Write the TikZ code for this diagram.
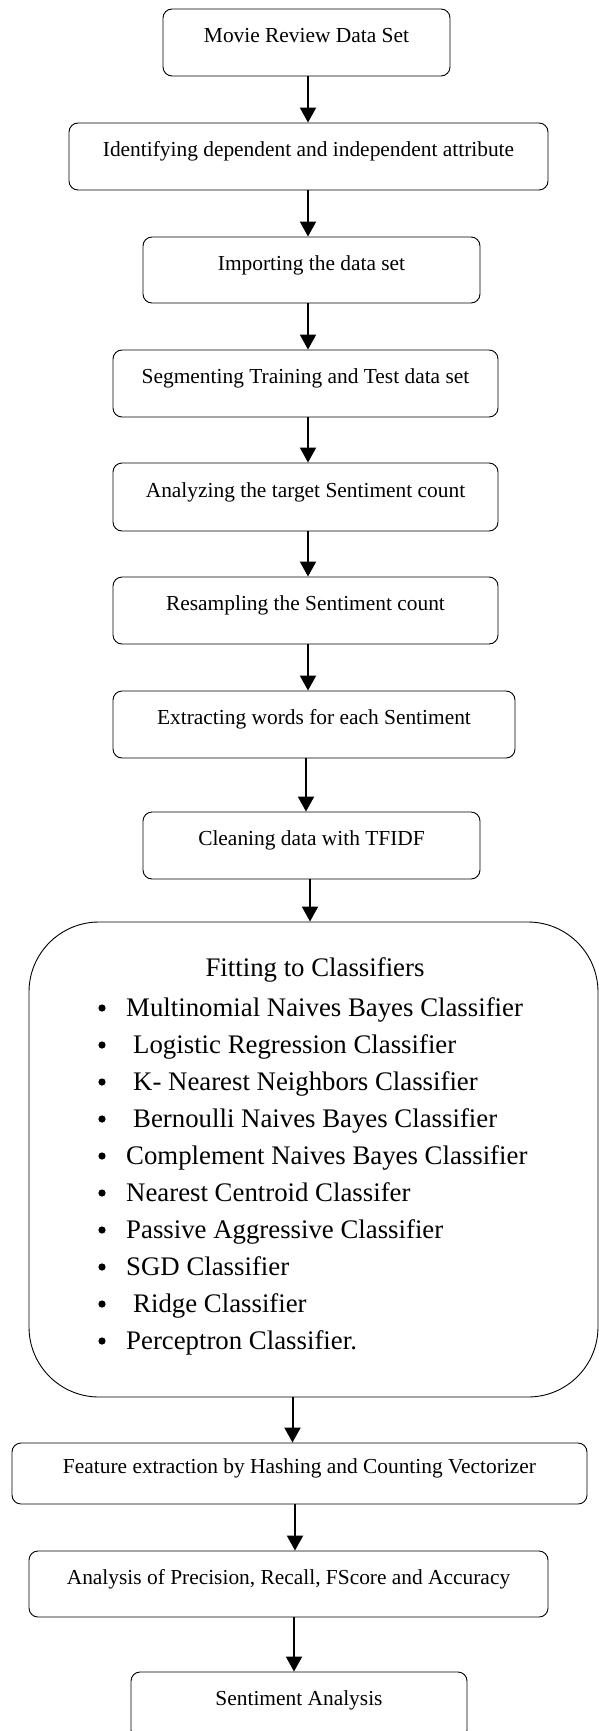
\documentclass[tikz,border=0pt]{standalone}
\usepackage{fontspec}
\setmainfont{Liberation Serif}
\usetikzlibrary{arrows.meta}

\begin{document}
\begin{tikzpicture}[x=1pt, y=-1pt, >={Triangle[width=16pt,length=15pt]},
	stepbox/.style={draw, line width=0.9pt, rounded corners=9pt, inner sep=0pt,
		font=\fontsize{21.4}{25}\selectfont, text height=12pt, text depth=12pt},
	flow/.style={->, line width=2pt},
	listtext/.style={inner sep=0pt, anchor=base west, font=\fontsize{26.8}{32}\selectfont}]
	\useasboundingbox (0,0) rectangle (599,1731);

	% Macro for an arrow from the bottom of one box to the top of the next.
	% Usage: \flowarrow{from}{to}{xshift}
	\newcommand{\flowarrow}[3]{
		\draw[flow] ([xshift=#3]#1.south) -- ([xshift=#3]#1.south |- #2.north);
	}

	% Steps of the pipeline
	\node[stepbox, minimum width=287pt, minimum height=67pt] (data) at (306.5,42.5) {Movie Review Data Set};
	\node[stepbox, minimum width=479pt, minimum height=67pt] (attr) at (308.5,156.5) {Identifying dependent and independent attribute};
	\node[stepbox, minimum width=337pt, minimum height=66pt] (import) at (311.5,270) {Importing the data set};
	\node[stepbox, minimum width=385pt, minimum height=67pt] (split) at (305.5,383.5) {Segmenting Training and Test data set};
	\node[stepbox, minimum width=385pt, minimum height=68pt] (count) at (305.5,497) {Analyzing the target Sentiment count};
	\node[stepbox, minimum width=385pt, minimum height=67pt] (resample) at (305.5,610.5) {Resampling the Sentiment count};
	\node[stepbox, minimum width=402pt, minimum height=67pt] (words) at (314,724.5) {Extracting words for each Sentiment};
	\node[stepbox, minimum width=337pt, minimum height=67pt] (tfidf) at (311.5,845.5) {Cleaning data with TFIDF};

	% Classifier box
	\node[draw, line width=0.9pt, rounded corners=70pt, minimum width=569pt, minimum height=475pt] (fit) at (313.5,1159.5) {};
	\node[inner sep=0pt, font=\fontsize{26.8}{32}\selectfont] (fittitle) at (315,970) {Fitting to Classifiers};
	\foreach \x/\name [count=\i] in {126/Multinomial Naives Bayes Classifier, 133/Logistic Regression Classifier,
		133/K- Nearest Neighbors Classifier, 133/Bernoulli Naives Bayes Classifier,
		126/Complement Naives Bayes Classifier, 126/Nearest Centroid Classifer,
		126/Passive Aggressive Classifier, 126/SGD Classifier, 133/Ridge Classifier,
		126/Perceptron Classifier.} {
		\fill (102,971+37*\i) circle (3.6pt);
		\node[listtext] (item\i) at (\x,979+37*\i) {\name};
	}

	\node[stepbox, minimum width=575pt, minimum height=61pt] (vect) at (299.5,1473.5) {Feature extraction by Hashing and Counting Vectorizer};
	\node[stepbox, minimum width=519pt, minimum height=66pt] (metrics) at (288.5,1584) {Analysis of Precision, Recall, FScore and Accuracy};
	\node[stepbox, minimum width=336pt, minimum height=67pt] (result) at (299,1705.5) {Sentiment Analysis};

	% Connectors
	\flowarrow{data}{attr}{1.5pt}
	\flowarrow{attr}{import}{-0.5pt}
	\flowarrow{import}{split}{-3.5pt}
	\flowarrow{split}{count}{2.5pt}
	\flowarrow{count}{resample}{2.5pt}
	\flowarrow{resample}{words}{2.5pt}
	\flowarrow{words}{tfidf}{-8pt}
	\flowarrow{tfidf}{fit}{-1.5pt}
	\flowarrow{fit}{vect}{-21pt}
	\flowarrow{vect}{metrics}{-4.5pt}
	\flowarrow{metrics}{result}{5.5pt}
\end{tikzpicture}
\end{document}
